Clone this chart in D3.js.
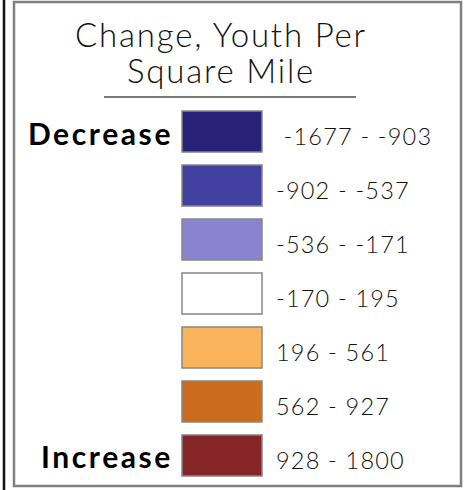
<!DOCTYPE html>
<html>
<head>
<meta charset="utf-8">
<script src="https://cdn.jsdelivr.net/npm/d3@7"></script>
<style>
  body { margin: 0; background: #fff; }
  svg text { font-family: "Lato", "Open Sans", sans-serif; }
</style>
</head>
<body>
<svg id="chart" width="465" height="490"></svg>
<script>
  let title_lines = ["Change, Youth Per", "Square Mile"]
  let class_labels = [" -1677 - -903", "-902 - -537", "-536 - -171", "-170 - 195", "196 - 561", "562 - 927", "928 - 1800"]
  let class_colors = ["#28217a", "#4140a1", "#8983d0", "#ffffff", "#fbb45c", "#ca6b1e", "#852527"]
  let end_labels = [{row: 0, text: "Decrease"}, {row: 6, text: "Increase"}]

  function make_scales() {
    return {
      y: d3.scaleBand()
        .domain(d3.range(class_labels.length))
        .range([111, 476])
        .paddingInner(0.24)
        .paddingOuter(0)
    }
  }

  function draw_frame(svg) {
    svg.append("line")
      .attr("x1", 4).attr("x2", 4)
      .attr("y1", 0).attr("y2", 490)
      .attr("stroke", "#111").attr("stroke-width", 2.5)

    svg.append("rect")
      .attr("x", 14).attr("y", 2)
      .attr("width", 447).attr("height", 484)
      .attr("fill", "#fff")
      .attr("stroke", "#808080").attr("stroke-width", 2.5)
  }

  function draw_title(svg) {
    svg.append("g")
      .selectAll("text")
      .data(title_lines).enter()
      .append("text")
      .attr("x", 221)
      .attr("y", (d, i) => 47 + i * 36)
      .attr("text-anchor", "middle")
      .attr("font-size", 33)
      .attr("font-weight", 300)
      .attr("letter-spacing", 1.8)
      .attr("fill", "#111")
      .text(d => d)

    svg.append("line")
      .attr("x1", 104).attr("x2", 356)
      .attr("y1", 97).attr("y2", 97)
      .attr("stroke", "#7a7a7a").attr("stroke-width", 2)
  }

  function draw_classes(svg, scales) {
    let rows = svg.append("g")
      .selectAll("g")
      .data(class_labels).enter()
      .append("g")
      .attr("transform", (d, i) => `translate(0, ${scales.y(i)})`)

    rows.append("rect")
      .attr("x", 182)
      .attr("width", 80)
      .attr("height", scales.y.bandwidth())
      .attr("fill", (d, i) => class_colors[i])
      .attr("stroke", "#888").attr("stroke-width", 1.5)

    rows.append("text")
      .attr("x", 276)
      .attr("y", scales.y.bandwidth() / 2 + 13.5)
      .attr("font-size", 23.5)
      .attr("font-weight", 300)
      .attr("letter-spacing", 1.2)
      .attr("fill", "#111")
      .style("white-space", "pre")
      .text(d => d)

    svg.append("g")
      .selectAll("text")
      .data(end_labels).enter()
      .append("text")
      .attr("x", 173)
      .attr("y", d => scales.y(d.row) + scales.y.bandwidth() / 2 + 13)
      .attr("text-anchor", "end")
      .attr("font-size", 30)
      .attr("font-weight", "bold")
      .attr("letter-spacing", 2.6)
      .attr("fill", "#000")
      .text(d => d.text)
  }

  function visualize() {
    let svg = d3.select("#chart")
    let scales = make_scales()
    draw_frame(svg)
    draw_title(svg)
    draw_classes(svg, scales)
  }

  visualize()
</script>
</body>
</html>
